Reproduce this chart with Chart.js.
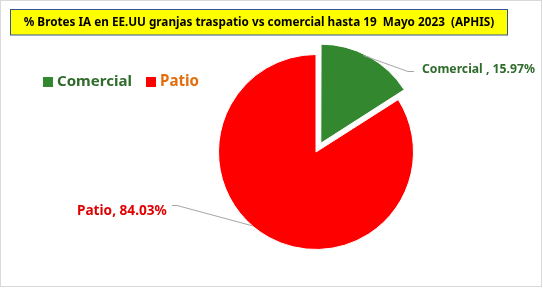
<!DOCTYPE html>
<html>
<head>
<meta charset="utf-8">
<script src="https://cdn.jsdelivr.net/npm/chart.js@4"></script>
<style>
    body { margin: 0; background: #fff; }
    canvas { display: block; }
</style>
</head>
<body>
<canvas id="pieChart" width="543" height="288"></canvas>
<script>
const chartTitle = '% Brotes IA en EE.UU granjas traspatio vs comercial hasta 19  Mayo 2023  (APHIS)';
const categories = ['Comercial', 'Patio'];
const shares = [15.97, 84.03];
const sliceColors = ['#33872f', '#ff0000'];
const legendTextColors = ['#2f6b2b', '#e46c0a'];
const labelTextColors = ['#2f6b2b', '#e00000'];

const FONT = '"Noto Sans", sans-serif';

function fitText(ctx, text, x, y, width, maxSize, align = 'left') {
    let size = maxSize;
    ctx.font = `bold ${size}px ${FONT}`;
    const w = ctx.measureText(text).width;
    if (w > width) {
        size = maxSize * width / w;
        ctx.font = `bold ${size}px ${FONT}`;
    }
    ctx.textAlign = align;
    ctx.textBaseline = 'middle';
    ctx.fillText(text, x, y);
}

const decorPlugin = {
    id: 'decor',
    beforeDraw(chart) {
        const ctx = chart.ctx;
        ctx.save();
        ctx.fillStyle = '#fff';
        ctx.fillRect(0, 0, chart.width, chart.height);
        ctx.strokeStyle = '#d9d9d9';
        ctx.lineWidth = 1;
        ctx.strokeRect(0.5, 0.5, 541, 286);
        ctx.restore();
    },
    afterDraw(chart) {
        const ctx = chart.ctx;
        ctx.save();

        // title box
        ctx.fillStyle = '#ffff00';
        ctx.fillRect(10, 9.5, 498, 25.5);
        ctx.strokeStyle = '#2f5597';
        ctx.lineWidth = 1;
        ctx.strokeRect(10.5, 9.5, 497, 25.5);
        ctx.fillStyle = '#000';
        fitText(ctx, chartTitle, 259, 22.5, 471, 16, 'center');

        // legend
        const legendX = [43, 146];
        const legendW = [75, 39];
        categories.forEach((c, i) => {
            ctx.fillStyle = sliceColors[i];
            ctx.fillRect(legendX[i], 77, 10, 10);
            ctx.fillStyle = legendTextColors[i];
            fitText(ctx, c, legendX[i] + 14, 81.5, legendW[i], 19);
        });

        // data labels with leader lines
        const meta = chart.getDatasetMeta(0);
        const labels = [
            { text: `${categories[0]} , ${shares[0].toFixed(2)}%`, x: 422, y: 69.5, w: 113, elbow: [408, 71], end: [414, 71], frac: 0.45 },
            { text: `${categories[1]}, ${shares[1].toFixed(2)}%`, x: 77, y: 211.5, w: 90, elbow: [177, 205], end: [172, 205], frac: 0.54 }
        ];
        labels.forEach((lb, i) => {
            const arc = meta.data[i];
            const ang = arc.startAngle + (arc.endAngle - arc.startAngle) * lb.frac;
            const off = (arc.options.offset || 0) / 4;
            const mid = (arc.startAngle + arc.endAngle) / 2;
            const cx = arc.x + Math.cos(mid) * off;
            const cy = arc.y + Math.sin(mid) * off;
            const ax = cx + Math.cos(ang) * arc.outerRadius;
            const ay = cy + Math.sin(ang) * arc.outerRadius;
            ctx.strokeStyle = '#a6a6a6';
            ctx.lineWidth = 1;
            ctx.beginPath();
            ctx.moveTo(ax, ay);
            ctx.lineTo(lb.elbow[0], lb.elbow[1] + 0.5);
            ctx.lineTo(lb.end[0], lb.end[1] + 0.5);
            ctx.stroke();
            ctx.fillStyle = labelTextColors[i];
            fitText(ctx, lb.text, lb.x, lb.y, lb.w, 15);
        });
        ctx.restore();
    }
};

new Chart(document.getElementById('pieChart').getContext('2d'), {
    type: 'pie',
    data: {
        labels: categories,
        datasets: [{
            data: shares,
            backgroundColor: sliceColors,
            borderColor: '#fff',
            borderWidth: 1,
            offset: [40, 0]
        }]
    },
    options: {
        responsive: false,
        animation: false,
        radius: 97.5,
        layout: { padding: { left: 100, right: 11, top: 30, bottom: 14 } },
        plugins: {
            legend: { display: false },
            tooltip: { enabled: false }
        }
    },
    plugins: [decorPlugin]
});
</script>
</body>
</html>
